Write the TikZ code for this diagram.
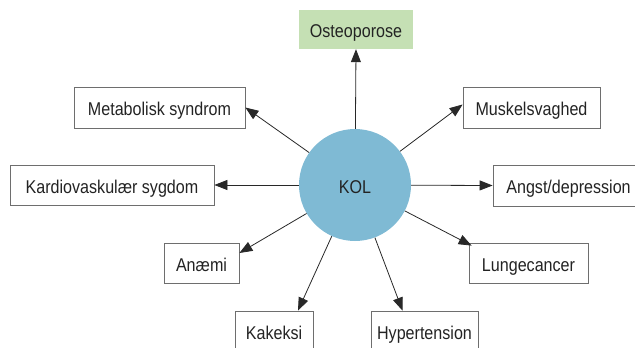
\documentclass[tikz,border=0pt]{standalone}
\usepackage{fontspec}
\setmainfont{Liberation Sans}[FakeStretch=0.87]
\usetikzlibrary{arrows.meta,calc}
\definecolor{kolblue}{RGB}{127,186,212}
\definecolor{osteogreen}{RGB}{197,224,180}
\definecolor{boxline}{RGB}{110,110,110}
\definecolor{txt}{RGB}{35,35,35}
\definecolor{arr}{RGB}{40,40,40}
\begin{document}
\begin{tikzpicture}[x=1pt,y=-1pt,
  lbl/.style={text=txt, font=\fontsize{18.5}{20}\selectfont, inner sep=0pt, text height=16pt, text depth=0pt},
  box/.style={lbl, draw=boxline, line width=0.8pt, fill=white, minimum height=40pt},
  conn/.style={draw=arr, line width=0.8pt, -{Triangle[length=13pt,width=10pt]}}]
\useasboundingbox (0,0) rectangle (635,348);
\clip (0,0) rectangle (635,348);
\node[lbl, fill=osteogreen, minimum width=114pt, minimum height=39pt] (osteo) at (356,29.5) {Osteoporose};
\node[box, minimum width=171pt, minimum height=41pt] (metab) at (159.5,107.5) {Metabolisk syndrom};
\node[box, minimum width=204pt] (kardio) at (112,185) {Kardiovaskulær sygdom};
\node[box, minimum width=75pt] (anaemi) at (201.5,263) {Anæmi};
\node[box, minimum width=78pt] (kakeksi) at (274,331) {Kakeksi};
\node[box, minimum width=107pt] (hyper) at (424.5,331) {Hypertension};
\node[box, minimum width=119pt] (lunge) at (528.5,263) {Lungecancer};
\node[box, minimum width=151pt, minimum height=41pt] (angst) at (568.5,185.5) {Angst/depression};
\node[box, minimum width=137pt, minimum height=41pt] (muskel) at (531.5,107.5) {Muskelsvaghed};
\node[lbl, circle, fill=kolblue, minimum size=112pt] (kol) at (355,185) {KOL};
\draw[conn] (kol) -- (osteo.south);
\draw[conn] (kol) -- (metab.east);
\draw[conn] (kol) -- (kardio.east);
\draw[conn] (kol) -- ([yshift=10pt]anaemi.east);
\draw[conn] (kol) -- ([xshift=24pt]kakeksi.north);
\draw[conn] (kol) -- ([xshift=-22pt]hyper.north);
\draw[conn] (kol) -- ([xshift=3pt,yshift=-3pt]lunge.north west);
\draw[conn] (kol) -- (angst.west);
\draw[conn] (kol) -- ([yshift=3pt]muskel.west);
\end{tikzpicture}
\end{document}
